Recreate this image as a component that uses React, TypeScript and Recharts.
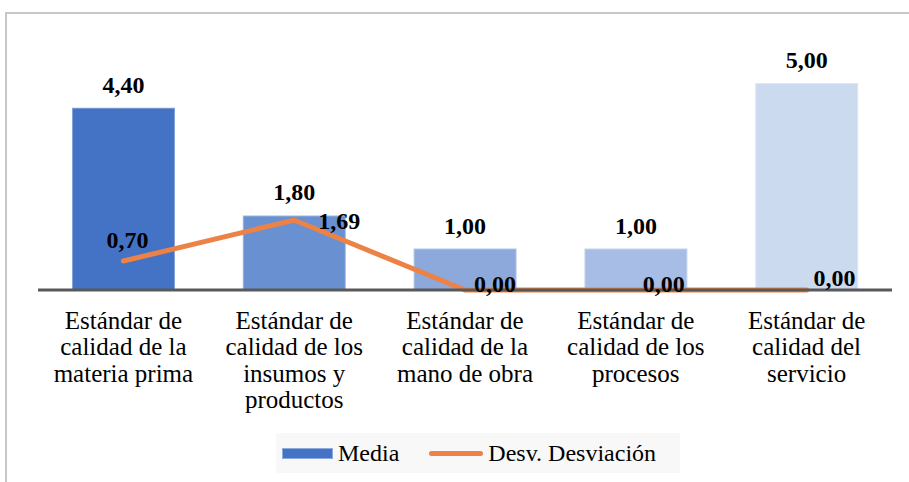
import React from 'react';
import { ComposedChart, Bar, Line, XAxis, YAxis, Cell, LabelList } from 'recharts';

const categories = [
  'Estándar de calidad de la materia prima',
  'Estándar de calidad de los insumos y productos',
  'Estándar de calidad de la mano de obra',
  'Estándar de calidad de los procesos',
  'Estándar de calidad del servicio',
];

// tick labels, wrapped as in the original
const tickLines = [
  ['Estándar de', 'calidad de la', 'materia prima'],
  ['Estándar de', 'calidad de los', 'insumos y', 'productos'],
  ['Estándar de', 'calidad de la', 'mano de obra'],
  ['Estándar de', 'calidad de los', 'procesos'],
  ['Estándar de', 'calidad del', 'servicio'],
];

const media = [4.4, 1.8, 1.0, 1.0, 5.0];
const desviacion = [0.7, 1.69, 0.0, 0.0, 0.0];

const BAR_COLORS = ['#4472C4', '#6990D1', '#8DA9DB', '#A8BDE5', '#CCDAF0'];
const LINE_COLOR = '#EC8245';
const FONT = '"Liberation Serif", "Times New Roman", serif';

const data = categories.map((name, i) => ({
  name,
  media: media[i],
  desv: desviacion[i],
}));

const fmt = (v: number) => v.toFixed(2).replace('.', ',');

const CategoryTick = (props: any) => {
  const { x, y, index } = props;
  const lines = tickLines[index] || [];
  return (
    <text x={x} y={y + 31} textAnchor="middle" fill="#000" fontFamily={FONT} fontSize={25}>
      {lines.map((l, k) => (
        <tspan key={k} x={x} dy={k === 0 ? 0 : 26.4}>{l}</tspan>
      ))}
    </text>
  );
};

const BarLabel = (props: any) => {
  const { x, y, width, value } = props;
  return (
    <text x={x + width / 2} y={y - 15} textAnchor="middle" fill="#000" fontFamily={FONT} fontSize={24} fontWeight="bold">
      {fmt(value)}
    </text>
  );
};

const LineLabel = (props: any) => {
  const { x, y, value, index } = props;
  if (index === 0) {
    return (
      <text x={x + 4} y={y - 13} textAnchor="middle" fill="#000" fontFamily={FONT} fontSize={24} fontWeight="bold">
        {fmt(value)}
      </text>
    );
  }
  const dx = index === 1 ? 24 : index === 2 ? 9 : 7;
  const dy = index === 1 ? 9 : index === 4 ? -4 : 2;
  return (
    <text x={x + dx} y={y + dy} textAnchor="start" fill="#000" fontFamily={FONT} fontSize={24} fontWeight="bold">
      {fmt(value)}
    </text>
  );
};

export default function App() {
  return (
    <div style={{ position: 'absolute', left: 0, top: 0, width: 909, height: 482, background: '#fff', overflow: 'hidden' }}>
      <div style={{ position: 'absolute', left: 5, top: 12, width: 904, height: 470, borderTop: '2px solid #c8c8c8', borderLeft: '2px solid #c8c8c8' }} />
      <ComposedChart
        width={909}
        height={482}
        data={data}
        margin={{ top: 83, right: 17, left: 38, bottom: 72 }}
        barCategoryGap="20%"
        style={{ position: 'absolute', left: 0, top: 0 }}
      >
        <XAxis
          dataKey="name"
          axisLine={{ stroke: '#595959', strokeWidth: 3 }}
          tickLine={false}
          tick={<CategoryTick />}
          height={120}
          interval={0}
        />
        <YAxis hide domain={[0, 5]} />
        <Bar dataKey="media" isAnimationActive={false} barSize={103} stroke="#ffffff" strokeOpacity={0.35} strokeWidth={2}>
          {data.map((_, i) => (
            <Cell key={i} fill={BAR_COLORS[i]} />
          ))}
          <LabelList dataKey="media" content={<BarLabel />} />
        </Bar>
        <Line
          dataKey="desv"
          type="linear"
          stroke={LINE_COLOR}
          strokeWidth={5}
          strokeLinecap="round"
          dot={false}
          activeDot={false}
          isAnimationActive={false}
        >
          <LabelList dataKey="desv" content={<LineLabel />} />
        </Line>
      </ComposedChart>
      <div
        style={{
          position: 'absolute',
          left: 276,
          top: 433,
          width: 404,
          height: 40,
          background: '#f8f8f8',
          display: 'flex',
          alignItems: 'center',
          fontFamily: FONT,
          fontSize: 24,
          color: '#000',
        }}
      >
        <span style={{ display: 'inline-block', width: 49, height: 9, background: BAR_COLORS[0], border: '1px solid #8faadc', marginLeft: 6, marginRight: 5 }} />
        <span>Media</span>
        <span style={{ display: 'inline-block', width: 54, height: 5, borderRadius: 3, background: LINE_COLOR, marginLeft: 30, marginRight: 5 }} />
        <span>Desv. Desviación</span>
      </div>
    </div>
  );
}
